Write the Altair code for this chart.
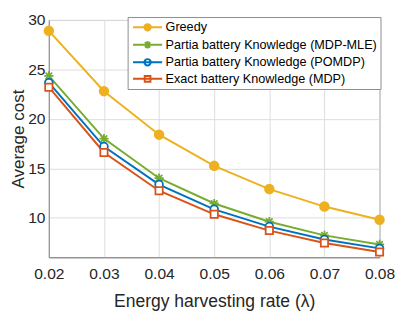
import altair as alt
import pandas as pd

x_vals = [0.02, 0.03, 0.04, 0.05, 0.06, 0.07, 0.08]
series_names = [
    "Greedy",
    "Partia battery Knowledge (MDP-MLE)",
    "Partia battery Knowledge (POMDP)",
    "Exact battery Knowledge (MDP)",
]
greedy = [28.9, 22.8, 18.4, 15.25, 12.9, 11.13, 9.8]
mdp_mle = [24.35, 18.0, 14.0, 11.44, 9.6, 8.22, 7.3]
pomdp = [23.66, 17.2, 13.35, 10.85, 9.1, 7.8, 6.9]
exact = [23.2, 16.6, 12.73, 10.35, 8.7, 7.44, 6.54]
y_ticks = [10, 15, 20, 25, 30]

colors = ["#EDB120", "#77AC30", "#0072BD", "#D95319"]
fills = ["#EDB120", "#77AC30", "#ffffff", "#ffffff"]

rows = []
for name, vals in zip(series_names, [greedy, mdp_mle, pomdp, exact]):
    for xv, yv in zip(x_vals, vals):
        rows.append({"x": xv, "y": yv, "series": name})
df = pd.DataFrame(rows)

FONT = "Liberation Sans"
asterisk = "M-1,0L1,0M0,-1L0,1M-0.7,-0.7L0.7,0.7M-0.7,0.7L0.7,-0.7"
circ = "M0.5,0A0.5,0.5,0,1,1,-0.5,0A0.5,0.5,0,1,1,0.5,0Z"
sq = "M-0.45,-0.45L0.45,-0.45L0.45,0.45L-0.45,0.45Z"
ast_small = "M-0.6,0L0.6,0M0,-0.6L0,0.6M-0.42,-0.42L0.42,0.42M-0.42,0.42L0.42,-0.42"
line_part = "M-2.3,0L2.3,0"
legend_shapes = [line_part + circ, line_part + ast_small, line_part + circ, line_part + sq]
marker_shapes = ["circle", asterisk, "circle", "square"]
marker_sizes = [80, 90, 64, 56]

xenc = alt.X("x:Q", scale=alt.Scale(domain=[0.02, 0.08], nice=False),
             axis=alt.Axis(values=x_vals, format=".2f", title="Energy harvesting rate (\u03bb)",
                           labelPadding=9, titlePadding=12, labelFlush=False))
yenc = alt.Y("y:Q", scale=alt.Scale(domain=[6, 30], nice=False, zero=False),
             axis=alt.Axis(values=y_ticks, title="Average cost", labelPadding=4,
                           titlePadding=0, labelFlush=False, titleFontSize=17.5))
color_scale = alt.Scale(domain=series_names, range=colors)
color_enc = alt.Color("series:N", scale=color_scale, sort=series_names,
                      legend=alt.Legend(title=None, orient="none", legendX=81, legendY=-3,
                                        symbolSize=169, symbolOffset=10, labelOffset=11,
                                        symbolStrokeWidth=2,
                                        rowPadding=2, padding=3,
                                        fillColor="#ffffff", strokeColor="#8a8a8a",
                                        labelFont=FONT, labelFontSize=13,
                                        labelColor="#000000", labelLimit=400))

base = alt.Chart(df)

legend_layer = base.transform_filter(alt.datum.y < -1000).mark_point(
    size=169, strokeWidth=2, opacity=1
).encode(
    x=xenc, y=yenc,
    color=color_enc,
    fill=alt.Fill("series:N", scale=alt.Scale(domain=series_names, range=fills),
                  sort=series_names, legend=alt.Legend(title=None)),
    shape=alt.Shape("series:N", scale=alt.Scale(domain=series_names, range=legend_shapes),
                    sort=series_names, legend=alt.Legend(title=None)),
)

lines = base.mark_line(strokeWidth=2).encode(
    x=xenc, y=yenc,
    color=color_enc,
    order=alt.Order("x:Q"),
)

point_layers = []
for name, shp, sz, fc in zip(series_names, marker_shapes, marker_sizes, fills):
    point_layers.append(
        base.transform_filter(alt.datum.series == name).mark_point(
            shape=shp, size=sz, strokeWidth=1.8, fill=fc, fillOpacity=1, opacity=1
        ).encode(
            x=xenc, y=yenc,
            color=color_enc,
        )
    )

chart = alt.layer(legend_layer, lines, *point_layers).properties(
    width=340, height=244,
    autosize=alt.AutoSizeParams(type="none"),
    padding={"left": 42, "top": 8, "right": 20, "bottom": 54},
).configure_view(
    stroke="#8a8a8a", strokeWidth=1
).configure_axis(
    grid=True, gridColor="#dcdcdc", gridWidth=1, gridOpacity=1,
    domainColor="#8a8a8a", domainWidth=1, ticks=False,
    labelFont=FONT, labelFontSize=16, labelColor="#262626",
    titleFont=FONT, titleFontSize=18, titleFontWeight="normal", titleColor="#262626",
).configure_legend(
    cornerRadius=0,
)

chart.save("out.html", embed_options={"renderer": "svg", "actions": False})
